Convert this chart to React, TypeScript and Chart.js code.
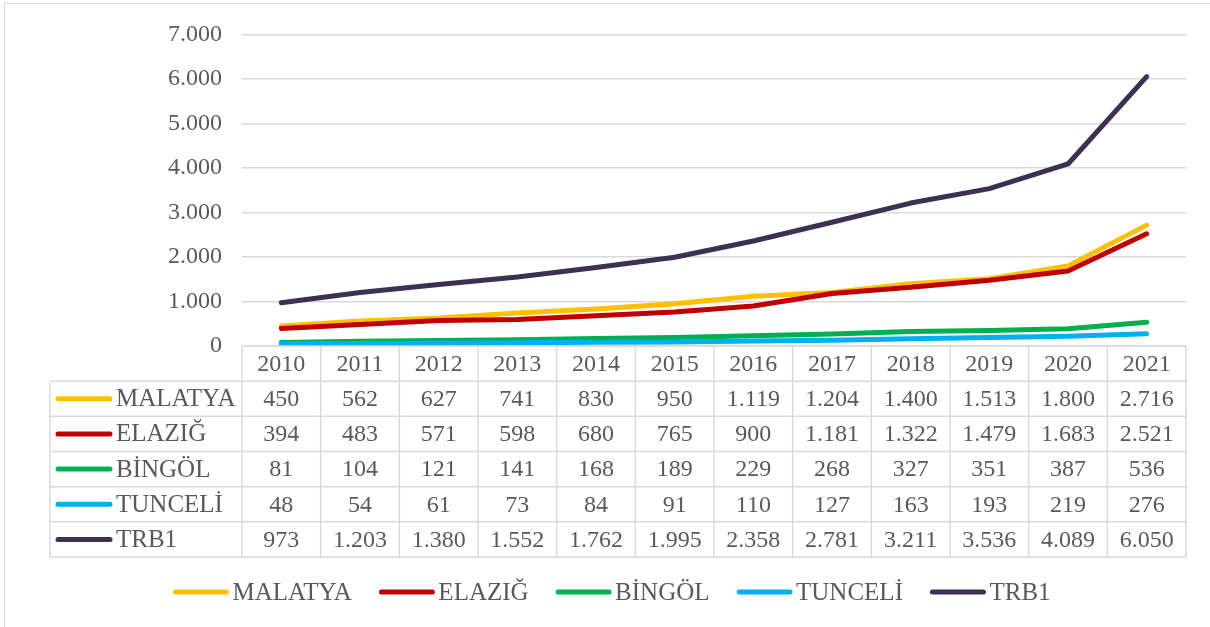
import React, { useEffect, useRef } from "react";
import { Chart, registerables } from "chart.js";

Chart.register(...registerables);

const years = ["2010", "2011", "2012", "2013", "2014", "2015", "2016", "2017", "2018", "2019", "2020", "2021"];
const seriesNames = ["MALATYA", "ELAZIĞ", "BİNGÖL", "TUNCELİ", "TRB1"];
const malatya = [450, 562, 627, 741, 830, 950, 1119, 1204, 1400, 1513, 1800, 2716];
const elazig = [394, 483, 571, 598, 680, 765, 900, 1181, 1322, 1479, 1683, 2521];
const bingol = [81, 104, 121, 141, 168, 189, 229, 268, 327, 351, 387, 536];
const tunceli = [48, 54, 61, 73, 84, 91, 110, 127, 163, 193, 219, 276];
const trb1 = [973, 1203, 1380, 1552, 1762, 1995, 2358, 2781, 3211, 3536, 4089, 6050];
const seriesValues = [malatya, elazig, bingol, tunceli, trb1];
const seriesColors = ["#FFC000", "#C00000", "#00B050", "#00B0F0", "#3E3052"];
const yTicks = [0, 1000, 2000, 3000, 4000, 5000, 6000, 7000];

const FONT = '"Liberation Serif", "Times New Roman", serif';
const NUM_SIZE = 24;
const NAME_SIZE = 25;
const TEXT_COLOR = "#595959";
const GRID_COLOR = "#d9d9d9";
const TABLE_HEIGHT = 211;
const TABLE_LEFT = 50;

const fmt = (v: number) => String(v).replace(/\B(?=(\d{3})+(?!\d))/g, ".");

const tablePlugin = {
  id: "dataTableLegend",
  afterDraw(chart: any) {
    const { ctx, chartArea, scales } = chart;
    const x = scales.x;
    const n = years.length;
    const colW = (chartArea.right - chartArea.left) / n;
    const top = chartArea.bottom;
    const rows = seriesNames.length + 1;
    const rowH = TABLE_HEIGHT / rows;
    const bottom = top + TABLE_HEIGHT;
    ctx.save();
    ctx.strokeStyle = GRID_COLOR;
    ctx.lineWidth = 1.5;
    ctx.beginPath();
    ctx.moveTo(chartArea.left, top);
    ctx.lineTo(chartArea.right, top);
    for (let r = 1; r <= rows; r++) {
      const y = top + rowH * r;
      ctx.moveTo(TABLE_LEFT, y);
      ctx.lineTo(chartArea.right, y);
    }
    for (let c = 0; c <= n; c++) {
      const xx = chartArea.left + colW * c;
      ctx.moveTo(xx, top);
      ctx.lineTo(xx, bottom);
    }
    ctx.moveTo(TABLE_LEFT, top + rowH);
    ctx.lineTo(TABLE_LEFT, bottom);
    ctx.stroke();

    ctx.fillStyle = TEXT_COLOR;
    ctx.textBaseline = "middle";
    ctx.textAlign = "center";
    ctx.font = `${NUM_SIZE}px ${FONT}`;
    years.forEach((yr, i) => {
      ctx.fillText(yr, x.getPixelForValue(i), top + rowH / 2 + 1);
    });
    seriesNames.forEach((name, s) => {
      const cy = top + rowH * (s + 1.5) + 1;
      ctx.font = `${NUM_SIZE}px ${FONT}`;
      ctx.fillStyle = TEXT_COLOR;
      seriesValues[s].forEach((v, i) => {
        ctx.textAlign = "center";
        ctx.fillText(fmt(v), x.getPixelForValue(i), cy);
      });
      ctx.strokeStyle = seriesColors[s];
      ctx.lineWidth = 5;
      ctx.lineCap = "round";
      ctx.beginPath();
      ctx.moveTo(58, cy - 1);
      ctx.lineTo(110, cy - 1);
      ctx.stroke();
      ctx.textAlign = "left";
      ctx.font = `${NAME_SIZE}px ${FONT}`;
      ctx.fillText(name, 116, cy);
    });

    // bottom legend
    ctx.font = `${NAME_SIZE}px ${FONT}`;
    const keyW = 55;
    const keyGap = 4;
    const itemGap = 27.5;
    const widths = seriesNames.map((nm) => keyW + keyGap + ctx.measureText(nm).width);
    const total = widths.reduce((a, b) => a + b, 0) + itemGap * (seriesNames.length - 1);
    let lx = 612 - total / 2;
    const ly = 592;
    seriesNames.forEach((nm, s) => {
      ctx.strokeStyle = seriesColors[s];
      ctx.lineWidth = 5;
      ctx.lineCap = "round";
      ctx.beginPath();
      ctx.moveTo(lx + 2, ly);
      ctx.lineTo(lx + keyW - 2, ly);
      ctx.stroke();
      ctx.textAlign = "left";
      ctx.fillStyle = TEXT_COLOR;
      ctx.fillText(nm, lx + keyW + keyGap, ly + 1);
      lx += widths[s] + itemGap;
    });
    ctx.restore();
  },
};

export default function App() {
  const canvasRef = useRef<HTMLCanvasElement | null>(null);

  useEffect(() => {
    const canvas = canvasRef.current;
    if (!canvas) return;
    const chart = new Chart(canvas, {
      type: "line",
      data: {
        labels: years,
        datasets: seriesNames.map((name, i) => ({
          label: name,
          data: seriesValues[i],
          borderColor: seriesColors[i],
          backgroundColor: seriesColors[i],
          borderWidth: 5,
          borderCapStyle: "round",
          borderJoinStyle: "round",
          pointRadius: 0,
          tension: 0,
          order: seriesNames.length - i,
        })),
      },
      options: {
        animation: false,
        responsive: false,
        devicePixelRatio: 1,
        layout: { padding: { left: 0, right: 24, top: 32, bottom: 70 } },
        plugins: {
          legend: { display: false },
          tooltip: { enabled: false },
          title: { display: false },
        },
        scales: {
          x: {
            type: "category",
            offset: true,
            grid: { display: false },
            border: { display: false },
            ticks: { display: false },
            afterFit: (scale: any) => {
              scale.height = TABLE_HEIGHT;
            },
          },
          y: {
            min: 0,
            max: 7000,
            afterBuildTicks: (scale: any) => {
              scale.ticks = yTicks.map((v) => ({ value: v }));
            },
            ticks: {
              padding: 20,
              color: TEXT_COLOR,
              font: { family: FONT, size: NUM_SIZE },
              callback: (v: any) => fmt(Number(v)),
            },
            grid: { color: GRID_COLOR, lineWidth: 1.5, drawTicks: false },
            border: { display: false },
            afterFit: (scale: any) => {
              scale.width = 242;
            },
          },
        },
      },
      plugins: [tablePlugin],
    } as any);
    return () => chart.destroy();
  }, []);

  return (
    <div
      style={{
        position: "fixed",
        left: 0,
        top: 0,
        width: 1210,
        height: 627,
        overflow: "hidden",
        background: "#fff",
      }}
    >
      <div
        style={{
          position: "absolute",
          left: 4,
          top: 3,
          width: 1230,
          height: 660,
          border: "1.5px solid #d9d9d9",
          boxSizing: "border-box",
        }}
      />
      <canvas
        ref={canvasRef}
        width={1210}
        height={627}
        style={{ position: "absolute", left: 0, top: 0, width: 1210, height: 627 }}
      />
    </div>
  );
}
